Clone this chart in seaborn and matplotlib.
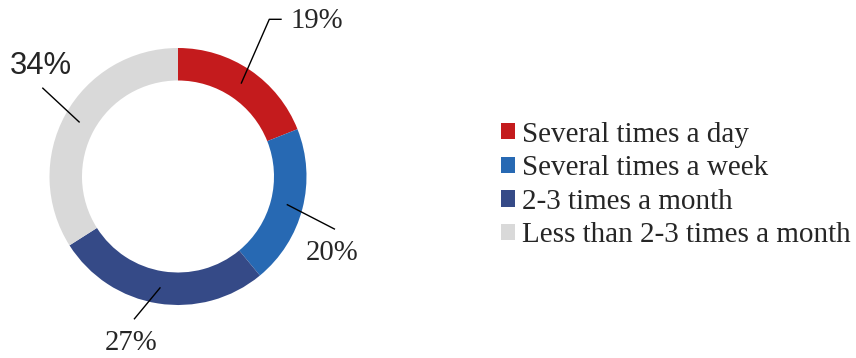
import matplotlib
matplotlib.use("Agg")
import matplotlib.pyplot as plt
from matplotlib.patches import Patch
import seaborn as sns
import numpy as np

# Share of respondents by frequency
categories = ["Several times a day", "Several times a week",
              "2-3 times a month", "Less than 2-3 times a month"]
shares = [19, 20, 27, 34]
colors = ["#C41B1D", "#2769B3", "#354A87", "#D9D9D9"]

sns.set_theme(style="white")
palette = sns.color_palette(colors)
plt.rcParams["font.family"] = ["Liberation Serif", "DejaVu Serif"]

W, H = 856, 358
fig = plt.figure(figsize=(W / 100, H / 100), dpi=100)
ax = fig.add_axes([0, 0, 1, 1])
ax.set_xlim(0, W)
ax.set_ylim(0, H)
ax.set_aspect("equal")
ax.axis("off")

cx, cy = 178, H - 176.5
R, ring = 128.5, 32.5
wedges, _ = ax.pie(shares, colors=palette, startangle=90, counterclock=False,
                   center=(cx, cy), radius=R, frame=True,
                   wedgeprops=dict(width=ring, linewidth=0))
ax.set_xlim(0, W)
ax.set_ylim(0, H)
ax.axis("off")

# label placement: (line end, elbow length, text anchor, font)
label_pos = [
    ((269.3, 19.3), 12.4, (291, 21.5), "serif"),
    ((335, 229.3), 0, (306, 253.5), "serif"),
    ((134, 319.3), 0, (104.5, 343.5), "serif"),
    ((42.3, 87.7), 0, (9.5, 66), "sans"),
]
rmid = R - ring / 2
for w, share, (end, elbow, tpos, fam) in zip(wedges, shares, label_pos):
    ang = np.deg2rad((w.theta1 + w.theta2) / 2)
    sx, sy = cx + rmid * np.cos(ang), cy + rmid * np.sin(ang)
    ex, ey = end[0], H - end[1]
    xs, ys = [sx, ex], [sy, ey]
    if elbow:
        xs.append(ex + elbow)
        ys.append(ey)
    ax.plot(xs, ys, color="black", lw=1.0, solid_capstyle="butt")
    if fam == "sans":
        ax.text(tpos[0], H - tpos[1], f"{share}%", fontsize=22.3,
                family=["Liberation Sans", "DejaVu Sans"], ha="left", va="center")
    else:
        ax.text(tpos[0], H - tpos[1], f"{share}%", fontsize=20.7,
                ha="left", va="center")

handles = [Patch(facecolor=c, edgecolor="none") for c in palette]
leg = ax.legend(handles, categories, loc="upper left",
                bbox_to_anchor=(501 / W, 1 - 121.5 / H), bbox_transform=fig.transFigure,
                frameon=False, fontsize=21, borderpad=0, borderaxespad=0,
                handlelength=0.49, handleheight=0.49, handletextpad=0.24,
                labelspacing=0.26)

fig.savefig("out.png", dpi=100)
